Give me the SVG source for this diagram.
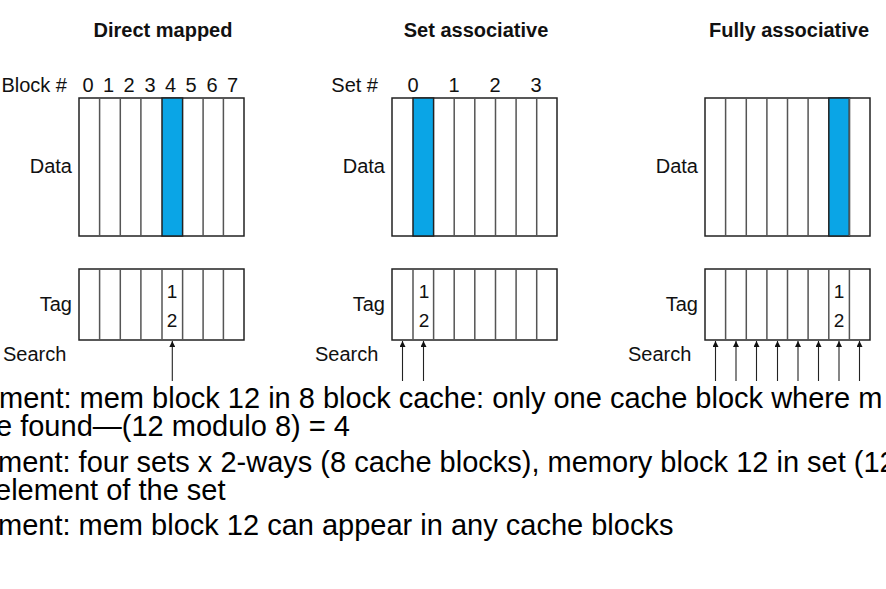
<svg xmlns="http://www.w3.org/2000/svg" width="886" height="589" viewBox="0 0 886 589">
<defs>
<style>
.title{font-family:"Liberation Sans",Arial,sans-serif;font-size:20px;font-weight:bold;fill:#111;text-anchor:middle}
.lbl{font-family:"Liberation Sans",Arial,sans-serif;font-size:20px;fill:#111}
.end{text-anchor:end}
.mid{text-anchor:middle}
.tagn{font-family:"Liberation Sans",Arial,sans-serif;font-size:19px;fill:#111;text-anchor:middle}
.box{fill:#fff;stroke:#222;stroke-width:1.5}
.col{stroke:#555;stroke-width:1.5}
.hl{fill:#0aa5e6;stroke:#222;stroke-width:1.5}
.arr{stroke:#222;stroke-width:1.1;fill:none;marker-end:url(#ah)}
.body{font-family:"Liberation Sans",Arial,sans-serif;font-size:29px;fill:#000}
</style>
<marker id="ah" viewBox="0 0 10 10" refX="10" refY="5" markerWidth="9" markerHeight="6" markerUnits="userSpaceOnUse" orient="auto">
<path d="M0,0 L10,5 L0,10 z" fill="#111"/>
</marker>
</defs>
<rect width="886" height="589" fill="#fff"/>

<g id="direct-mapped">
<text class="title" x="163" y="37">Direct mapped</text>
<text class="lbl end" x="67" y="92">Block #</text>
<g class="lbl mid">
<text x="88" y="92">0</text><text x="108.5" y="92">1</text><text x="129" y="92">2</text><text x="150" y="92">3</text>
<text x="170.5" y="92">4</text><text x="191" y="92">5</text><text x="212" y="92">6</text><text x="232.5" y="92">7</text>
</g>
<text class="lbl end" x="72" y="173">Data</text>
<rect class="box" x="79" y="98" width="165" height="138"/>
<rect class="hl" x="162" y="98" width="20.6" height="138"/>
<path class="col" d="M99.6,98V236M120.3,98V236M140.9,98V236M203.1,98V236M223.4,98V236"/>
<text class="lbl end" x="72" y="311">Tag</text>
<rect class="box" x="79" y="269" width="165" height="71"/>
<path class="col" d="M99.6,269V340M120.3,269V340M140.9,269V340M162,269V340M182.6,269V340M203.1,269V340M223.4,269V340"/>
<text class="tagn" x="172" y="298">1</text>
<text class="tagn" x="172" y="327">2</text>
<text class="lbl" x="3" y="361">Search</text>
</g>

<g id="set-associative">
<text class="title" x="476" y="37">Set associative</text>
<text class="lbl end" x="378" y="92">Set #</text>
<g class="lbl mid">
<text x="413" y="92">0</text><text x="454" y="92">1</text><text x="495" y="92">2</text><text x="536" y="92">3</text>
</g>
<text class="lbl end" x="385" y="173">Data</text>
<rect class="box" x="392" y="98" width="165" height="138"/>
<rect class="hl" x="413" y="98" width="20.6" height="138"/>
<path class="col" d="M454.2,98V236M474.8,98V236M495.5,98V236M516.1,98V236M536.7,98V236"/>
<text class="lbl end" x="385" y="311">Tag</text>
<rect class="box" x="392" y="269" width="165" height="71"/>
<path class="col" d="M413,269V340M433.6,269V340M454.2,269V340M474.8,269V340M495.5,269V340M516.1,269V340M536.7,269V340"/>
<text class="tagn" x="424" y="298">1</text>
<text class="tagn" x="424" y="327">2</text>
<text class="lbl" x="315" y="361">Search</text>
</g>

<g id="fully-associative">
<text class="title" x="789" y="37">Fully associative</text>
<text class="lbl end" x="698" y="173">Data</text>
<rect class="box" x="705" y="98" width="165" height="138"/>
<rect class="hl" x="828.8" y="98" width="20.6" height="138"/>
<path class="col" d="M725.6,98V236M746.3,98V236M766.9,98V236M787.5,98V236M808.1,98V236M849.4,98V236"/>
<text class="lbl end" x="698" y="311">Tag</text>
<rect class="box" x="705" y="269" width="165" height="71"/>
<path class="col" d="M725.6,269V340M746.3,269V340M766.9,269V340M787.5,269V340M808.1,269V340M828.8,269V340M849.4,269V340"/>
<text class="tagn" x="839" y="298">1</text>
<text class="tagn" x="839" y="327">2</text>
<text class="lbl" x="628" y="361">Search</text>
</g>

<g id="connectors">
<path class="arr" d="M172.3,381V341"/>
<path class="arr" d="M402.5,381V341"/>
<path class="arr" d="M423.5,381V341"/>
<path class="arr" d="M715.5,381V341"/>
<path class="arr" d="M736,381V341"/>
<path class="arr" d="M756.5,381V341"/>
<path class="arr" d="M777.5,381V341"/>
<path class="arr" d="M798,381V341"/>
<path class="arr" d="M818.5,381V341"/>
<path class="arr" d="M839,381V341"/>
<path class="arr" d="M859.5,381V341"/>
</g>

<g id="notes">
<text class="body" x="-1" y="408">ment: mem block 12 in 8 block cache: only one cache block where m</text>
<text class="body" x="-4" y="436">e found—(12 modulo 8) = 4</text>
<text class="body" x="-2" y="472">ment: four sets x 2-ways (8 cache blocks), memory block 12 in set (12</text>
<text class="body" x="-5" y="500">element of the set</text>
<text class="body" x="-2" y="535">ment: mem block 12 can appear in any cache blocks</text>
</g>
</svg>
